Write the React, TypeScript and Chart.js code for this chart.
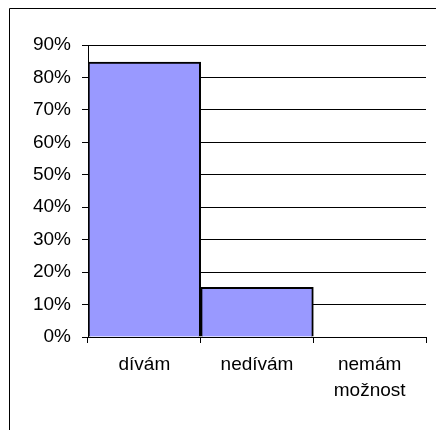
import React, { useEffect, useRef } from "react";
import { Chart, registerables } from "chart.js";

Chart.register(...registerables);

const categories: (string | string[])[] = ["dívám", "nedívám", ["nemám", "možnost"]];
const shares: number[] = [84.7, 15.3, 0];
const yTicks: number[] = [0, 10, 20, 30, 40, 50, 60, 70, 80, 90];

const framePlugin = {
  id: "frame",
  afterDraw(chart: any) {
    const ctx = chart.ctx;
    ctx.save();
    ctx.strokeStyle = "#000";
    ctx.lineWidth = 1;
    ctx.beginPath();
    ctx.moveTo(9.5, chart.height);
    ctx.lineTo(9.5, 8.5);
    ctx.lineTo(chart.width, 8.5);
    ctx.stroke();
    ctx.restore();
  },
};

export default function App() {
  const ref = useRef<HTMLCanvasElement | null>(null);
  useEffect(() => {
    if (!ref.current) return;
    const font = { family: "'Liberation Sans', Arial, sans-serif", size: 19 };
    const xFont = { family: "'Liberation Sans', Arial, sans-serif", size: 19, lineHeight: 26 / 19 };
    const chart = new Chart(ref.current, {
      type: "bar",
      data: {
        labels: categories,
        datasets: [
          {
            data: shares,
            backgroundColor: "#9999FF",
            borderColor: "#000000",
            borderWidth: 2,
            barPercentage: 1,
            categoryPercentage: 1,
          },
        ],
      },
      options: {
        animation: false,
        responsive: false,
        maintainAspectRatio: false,
        layout: { padding: { left: 0, top: 45, right: 10, bottom: 0 } },
        plugins: { legend: { display: false }, tooltip: { enabled: false } },
        scales: {
          x: {
            grid: {
              display: true,
              drawOnChartArea: false,
              drawTicks: true,
              tickLength: 6,
              color: "#000",
              offset: true,
            },
            border: { display: true, color: "#000", width: 1 },
            ticks: { color: "#000", font: xFont, padding: 9, maxRotation: 0 },
            afterFit: (s: any) => {
              s.height = 430 - 337;
            },
          },
          y: {
            min: 0,
            max: 90,
            afterBuildTicks: (s: any) => {
              s.ticks = yTicks.map((v) => ({ value: v }));
            },
            grid: { color: "#000", tickLength: 6, lineWidth: 1 },
            border: { display: true, color: "#000", width: 1 },
            ticks: {
              color: "#000",
              font,
              padding: 11,
              callback: (v: any) => v + "%",
            },
            afterFit: (s: any) => {
              s.width = 88;
            },
          },
        },
      },
      plugins: [framePlugin],
    });
    return () => chart.destroy();
  }, []);
  return (
    <div style={{ position: "absolute", left: 0, top: 0, width: 436, height: 430, background: "#fff" }}>
      <canvas ref={ref} width={436} height={430} style={{ display: "block" }} />
    </div>
  );
}
